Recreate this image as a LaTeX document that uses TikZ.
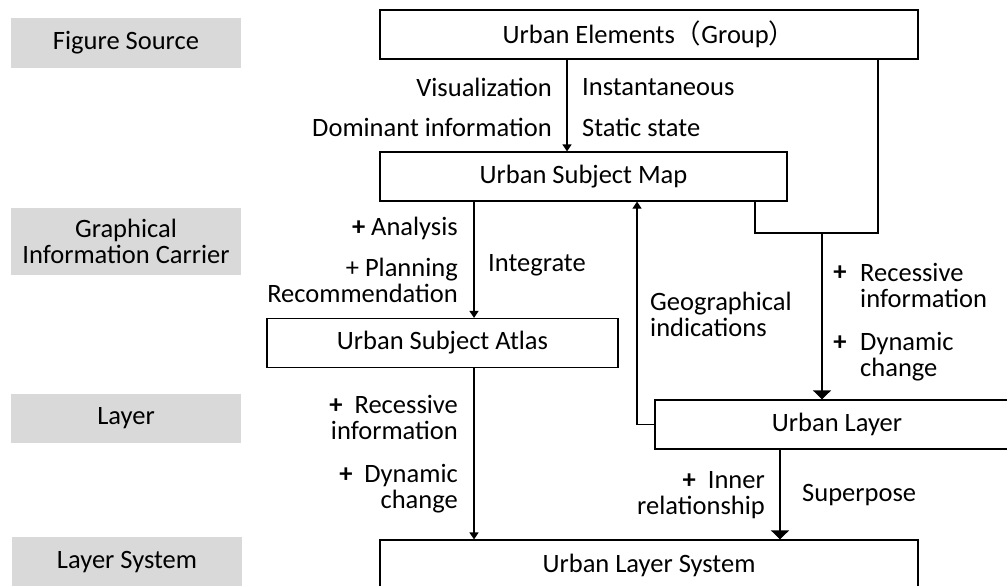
\documentclass[tikz,border=0pt]{standalone}
\usepackage{fontspec}
\setmainfont{Carlito}
\newfontfamily\cjk{Noto Sans CJK SC}
\usetikzlibrary{arrows.meta}
\begin{document}
\begin{tikzpicture}[x=1pt,y=-1pt,
  every node/.style={font=\fontsize{26.5}{26}\selectfont, inner sep=0pt},
  flowbox/.style={draw, line width=1.2pt, minimum width=#1, minimum height=49pt},
  stagebox/.style={fill=stagegray, minimum width=230pt, minimum height=#1, align=center},
  lblr/.style={anchor=east, align=right},
  lbll/.style={anchor=west, align=left},
  conn/.style={line width=1.2pt},
  arrsmall/.style={conn, -{Triangle[width=9pt,length=7pt]}},
  arrbig/.style={conn, -{Triangle[width=18pt,length=9pt]}}
]
\definecolor{stagegray}{HTML}{D9D9D9}
\useasboundingbox (0,0) rectangle (1007,586);
\clip (0,0) rectangle (1007,586);

% stage column
\node[stagebox=50pt] (fs)  at (126,43)    {Figure Source};
\node[stagebox=67pt] (gic) at (126,241)   {Graphical\\Information Carrier};
\node[stagebox=49pt] (lay) at (126,418.5) {Layer};
\node[stagebox=50pt] (ls)  at (127,562)   {Layer System};

% flow boxes
\node[flowbox=538pt] (el)    at (649,34.5)  {Urban Elements{\cjk （}Group{\cjk ）}};
\node[flowbox=407pt] (map)   at (583.5,176.5) {Urban Subject Map};
\node[flowbox=351pt] (atlas) at (442.5,343) {Urban Subject Atlas};
\node[flowbox=364pt] (ul)    at (837,424.5) {Urban Layer};
\node[flowbox=538pt, minimum height=50pt] (uls) at (649,565) {Urban Layer System};

% helper points for the elbow connectors
\coordinate (mapout) at (755,0);
\coordinate (elout)  at (878,0);
\coordinate (joint)  at (822,233);
\coordinate (geo)    at (637,0);
\coordinate (x474)   at (474,0);
\coordinate (x567)   at (567,0);
\coordinate (x780)   at (780,0);

% connectors
\draw[arrsmall] (el.south -| x567) -- (map.north -| x567);
\draw[conn] (map.south -| mapout) |- (joint) -| (el.south -| elout);
\draw[arrbig] (joint) -- (ul.north -| joint);
\draw[arrsmall] (map.south -| x474) -- (atlas.north -| x474);
\draw[arrsmall] (ul.west) -| (map.south -| geo);
\draw[arrsmall] (atlas.south -| x474) -- (uls.north -| x474);
\draw[arrbig] (ul.south -| x780) -- (uls.north -| x780);

% labels
\node[lblr] (l1) at (552,87)  {Visualization};
\node[lbll] (l2) at (582,87)  {Instantaneous};
\node[lblr] (l3) at (552,127) {Dominant information};
\node[lbll] (l4) at (582,127) {Static state};

\node[lblr] (l5) at (458,228) {\textbf{+} Analysis};
\node[lblr] (l6) at (458,280) {+ Planning\\Recommendation};
\node[lbll] (l7) at (488,265) {Integrate};

\node[lbll] (l8) at (650,314.5) {Geographical\\indications};

\node (p1) at (840,273) {\textbf{+}};
\node[lbll] (l9) at (860,285.5) {Recessive\\information};
\node (p2) at (840,343) {\textbf{+}};
\node[lbll] (l10) at (860,356.5) {Dynamic\\change};

\node[lblr] (l11) at (458,417.5) {\textbf{+}\ \ Recessive\\information};
\node[lblr] (l12) at (458,488.5) {\textbf{+}\ \ Dynamic\\change};

\node[lblr] (l13) at (765,495.5) {\textbf{+}\ \ Inner\\relationship};
\node[lbll] (l14) at (802,495) {Superpose};
\end{tikzpicture}
\end{document}
